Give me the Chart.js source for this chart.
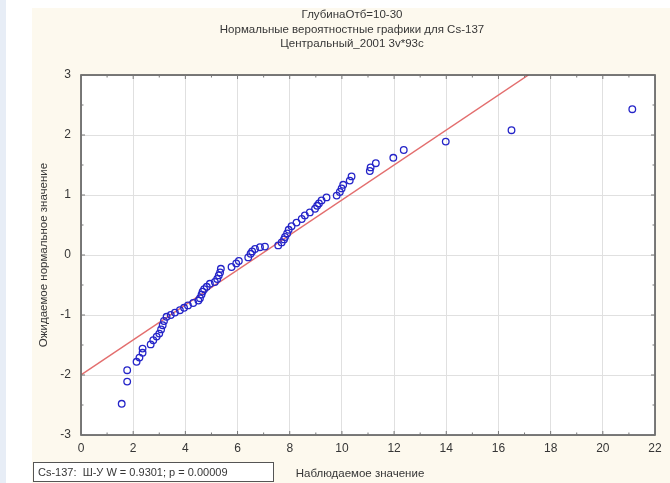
<!DOCTYPE html>
<html lang="ru">
<head>
<meta charset="utf-8">
<title>Cs-137 normal probability plot</title>
<script src="https://cdn.jsdelivr.net/npm/chart.js@4"></script>
<style>
  html, body { margin: 0; padding: 0; background: #ffffff; }
  #wrap { position: relative; width: 670px; height: 483px; }
</style>
</head>
<body>
<div id="wrap"><canvas id="qq" width="670" height="483"></canvas></div>
<script>
// observed Cs-137 values and their expected normal scores
const observed = [
  1.56, 1.77, 1.77, 2.13, 2.24, 2.36, 2.36, 2.67, 2.77, 2.90,
  3.00, 3.07, 3.13, 3.18, 3.28, 3.44, 3.60, 3.79, 3.95, 4.10,
  4.30, 4.50, 4.56, 4.62, 4.66, 4.72, 4.82, 4.94, 5.13, 5.22,
  5.28, 5.33, 5.36, 5.77, 5.95, 6.05, 6.41, 6.50, 6.56, 6.67,
  6.86, 7.05, 7.56, 7.69, 7.78, 7.82, 7.90, 7.96, 8.07, 8.26,
  8.46, 8.58, 8.77, 8.97, 9.05, 9.12, 9.22, 9.41, 9.80, 9.92,
  9.99, 10.05, 10.30, 10.37, 11.07, 11.10, 11.30, 11.97, 12.37, 13.98,
  16.50, 21.13
];
const expected = [
  -2.48, -2.11, -1.92, -1.78, -1.71, -1.63, -1.56, -1.49, -1.42, -1.36,
  -1.31, -1.24, -1.17, -1.10, -1.03, -1.00, -0.96, -0.92, -0.88, -0.84,
  -0.80, -0.76, -0.72, -0.66, -0.61, -0.57, -0.53, -0.48, -0.45, -0.40,
  -0.34, -0.29, -0.23, -0.20, -0.14, -0.10, -0.04, 0.02, 0.06, 0.10,
  0.13, 0.14, 0.16, 0.21, 0.26, 0.30, 0.36, 0.42, 0.48, 0.54,
  0.60, 0.66, 0.71, 0.77, 0.82, 0.86, 0.91, 0.96, 0.99, 1.05,
  1.11, 1.17, 1.24, 1.31, 1.40, 1.46, 1.53, 1.62, 1.75, 1.89,
  2.08, 2.43
];
// reference line end points
const lineX = [0, 17.15];
const lineY = [-2, 3];

const titleLines = [
  "ГлубинаОтб=10-30",
  "Нормальные вероятностные графики для Cs-137",
  "Центральный_2001 3v*93c"
];
const xTitle = "Наблюдаемое значение";
const yTitle = "Ожидаемое нормальное значение";
const statText = "Cs-137:  Ш-У W = 0.9301; p = 0.00009";

const FONT = "'Liberation Sans', Arial, sans-serif";
const TEXT = "#363636";

// background panels, plot frame, minor ticks and the text blocks
const decor = {
  id: "decor",
  beforeDraw(chart) {
    const c = chart.ctx;
    const a = chart.chartArea;
    c.save();
    c.fillStyle = "#ffffff";
    c.fillRect(0, 0, chart.width, chart.height);
    c.fillStyle = "#e7edf6";
    c.fillRect(0, 0, 6, chart.height);
    c.fillStyle = "#fdf9ee";
    c.fillRect(32, 8, chart.width - 32, chart.height - 8);
    c.fillStyle = "#ffffff";
    c.fillRect(a.left, a.top, a.right - a.left, a.bottom - a.top);
    c.restore();
  },
  afterDraw(chart) {
    const c = chart.ctx;
    const a = chart.chartArea;
    const xs = chart.scales.x;
    const ys = chart.scales.y;
    c.save();
    c.strokeStyle = "#5a5a5a";
    c.lineWidth = 1.6;
    c.strokeRect(a.left, a.top, a.right - a.left, a.bottom - a.top);

    // small inner tick marks on every side
    c.lineWidth = 1;
    c.strokeStyle = "#777";
    for (let v = 0; v <= 22; v += 1) {
      const p = xs.getPixelForValue(v);
      const len = v % 2 === 0 ? 4 : 2.5;
      c.beginPath();
      c.moveTo(p, a.bottom); c.lineTo(p, a.bottom - len);
      c.moveTo(p, a.top); c.lineTo(p, a.top + len);
      c.stroke();
    }
    for (let v = -3; v <= 3; v += 0.5) {
      const p = ys.getPixelForValue(v);
      const len = Number.isInteger(v) ? 4 : 2.5;
      c.beginPath();
      c.moveTo(a.left, p); c.lineTo(a.left + len, p);
      c.moveTo(a.right, p); c.lineTo(a.right - len, p);
      c.stroke();
    }

    c.fillStyle = TEXT;
    c.font = "11.5px " + FONT;
    c.textAlign = "center";
    c.textBaseline = "middle";
    const cx = 352;
    titleLines.forEach((t, i) => c.fillText(t, cx, 15 + i * 14.5));

    c.fillText(xTitle, 360, 474);

    c.save();
    c.translate(44, 255);
    c.rotate(-Math.PI / 2);
    c.fillText(yTitle, 0, 0);
    c.restore();

    // statistics box
    c.textAlign = "left";
    c.fillStyle = "#ffffff";
    c.fillRect(33.5, 462.5, 240, 19);
    c.strokeStyle = "#555";
    c.strokeRect(33.5, 462.5, 240, 19);
    c.fillStyle = TEXT;
    c.font = "11px " + FONT;
    c.fillText(statText, 38, 472.5);
    c.restore();
  }
};

new Chart(document.getElementById("qq"), {
  type: "scatter",
  data: {
    datasets: [
      {
        label: "Cs-137",
        data: observed.map((x, i) => ({ x, y: expected[i] })),
        pointStyle: "circle",
        pointRadius: 3.3,
        pointBorderWidth: 1.3,
        borderColor: "#2424c8",
        backgroundColor: "rgba(0,0,0,0)",
        order: 1
      },
      {
        type: "line",
        label: "ref",
        data: lineX.map((x, i) => ({ x, y: lineY[i] })),
        borderColor: "#e36e6e",
        borderWidth: 1.5,
        pointRadius: 0,
        fill: false,
        order: 2
      }
    ]
  },
  options: {
    responsive: false,
    animation: false,
    events: [],
    layout: { padding: { top: 75, right: 15, bottom: 0, left: 0 } },
    plugins: {
      legend: { display: false },
      title: { display: false },
      tooltip: { enabled: false }
    },
    scales: {
      x: {
        type: "linear",
        min: 0,
        max: 22,
        afterFit(s) { s.height = 48; },
        ticks: {
          stepSize: 2,
          padding: 6,
          color: TEXT,
          font: { family: FONT, size: 12 }
        },
        grid: { color: "#e0e0e0", drawTicks: false },
        border: { display: false }
      },
      y: {
        type: "linear",
        min: -3,
        max: 3,
        afterFit(s) { s.width = 81; },
        ticks: {
          stepSize: 1,
          padding: 10,
          color: TEXT,
          font: { family: FONT, size: 12 }
        },
        grid: { color: "#e0e0e0", drawTicks: false },
        border: { display: false }
      }
    }
  },
  plugins: [decor]
});
</script>
</body>
</html>
